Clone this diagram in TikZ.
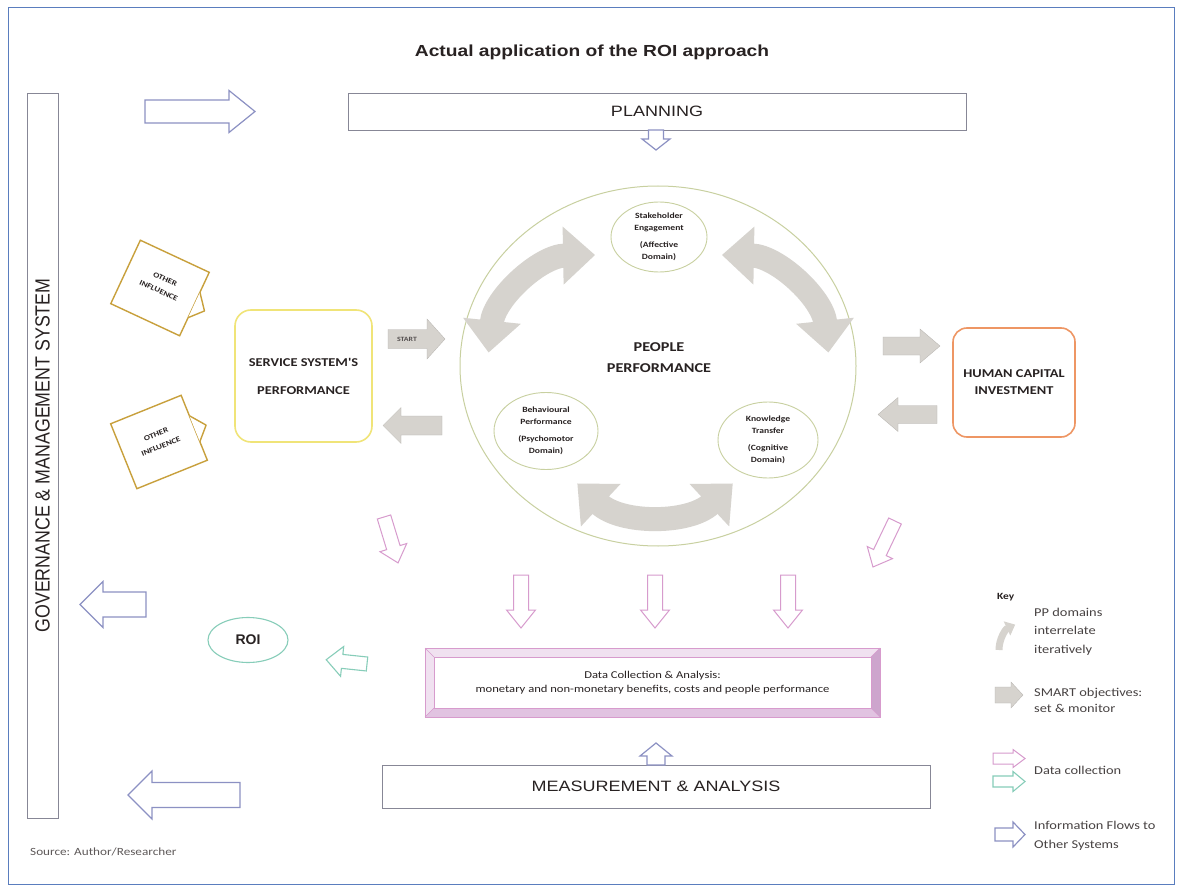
\documentclass[tikz,border=0pt]{standalone}
\usepackage{fontspec}
\setmainfont{Carlito}
\newfontfamily\calf[FakeStretch=1.2]{Carlito}
\newfontfamily\arf[FakeStretch=1.2]{Liberation Sans}
\newfontfamily\arplain{Liberation Sans}
\usetikzlibrary{shapes.geometric,arrows.meta}
\definecolor{frameblue}{RGB}{90,125,190}
\definecolor{boxgray}{RGB}{135,135,150}
\definecolor{flowblue}{RGB}{140,145,195}
\definecolor{pinkc}{RGB}{215,155,205}
\definecolor{pinkl}{RGB}{240,225,240}
\definecolor{pinkm}{RGB}{225,195,225}
\definecolor{pinkd}{RGB}{205,165,205}
\definecolor{tealc}{RGB}{135,205,185}
\definecolor{agray}{RGB}{214,211,206}
\definecolor{yellowc}{RGB}{240,228,120}
\definecolor{orangec}{RGB}{238,150,100}
\definecolor{olivec}{RGB}{200,208,160}
\definecolor{goldc}{RGB}{200,160,60}
\definecolor{txt}{RGB}{40,34,34}
% block arrow: style, x, y (tail centre), angle, length, shaft half, head half, head length
\newcommand{\blockarr}[8]{%
  \begin{scope}[shift={(#2,#3)},rotate=#4]
    \draw[#1] (0,-#6) -- ({#5-#8},-#6) -- ({#5-#8},-#7) -- (#5,0) -- ({#5-#8},#7) -- ({#5-#8},#6) -- (0,#6) -- cycle;
  \end{scope}}
\tikzset{
  flowarr/.style={draw=flowblue, line width=1.2pt, fill=white, line join=miter},
  pinkarr/.style={draw=pinkc, line width=1pt, fill=white},
  tealarr/.style={draw=tealc, line width=1.1pt, fill=white},
  grayarr/.style={fill=agray, draw=agray!85!black, line width=0.3pt},
  curv/.style={draw=agray, line width=24pt, arrows={Triangle[length=32pt,width=56pt]-Triangle[length=32pt,width=56pt]}},
  plainbox/.style={draw=boxgray, line width=0.9pt, fill=white, font=\arf\fontsize{15}{18}\selectfont, text=txt},
  smallc/.style={ellipse, draw=olivec, line width=0.9pt, align=center, font=\calf\bfseries\fontsize{8}{12.5}\selectfont},
  infl/.style={draw=goldc, line width=1.4pt, fill=white, minimum width=76pt, minimum height=70pt, transform shape},
  infltxt/.style={transform shape, font=\calf\bfseries\fontsize{7.5}{9}\selectfont},
  keytxt/.style={anchor=west, align=left, font=\calf\fontsize{12}{18.5}\selectfont, text=txt!85}
}
\begin{document}
\begin{tikzpicture}[x=1pt,y=-1pt, every node/.style={inner sep=0pt, text=txt}]
\fill[white] (0,0) rectangle (1179,888);
\useasboundingbox (0,0) rectangle (1179,888);
\draw[frameblue, line width=1pt] (8,8) rectangle (1174,884);

% title
\node[font=\arf\bfseries\fontsize{16}{19}\selectfont] (title) at (592,52) {Actual application of the ROI approach};

% governance bar
\node[draw=boxgray, line width=0.9pt, minimum width=31pt, minimum height=725pt] (gov) at (42.5,455.5) {};
\node[rotate=90, font=\arplain\fontsize{17.8}{20}\selectfont] (govt) at (gov.center) {\scalebox{1}[1.15]{GOVERNANCE \& MANAGEMENT SYSTEM}};

% planning & measurement
\node[plainbox, minimum width=618pt, minimum height=37pt] (plan) at (657,111.5) {PLANNING};
\node[plainbox, minimum width=548pt, minimum height=43pt] (meas) at (656,786.5) {MEASUREMENT \& ANALYSIS};

% information flow arrows
\blockarr{flowarr}{145}{111.5}{0}{110}{11.5}{21}{26}
\blockarr{flowarr}{146}{604.5}{180}{66}{12.5}{23}{23}
\blockarr{flowarr}{240}{795}{180}{112}{12.5}{24}{24}
\blockarr{flowarr}{656}{130}{-90}{20}{7.5}{14}{11}
\blockarr{flowarr}{656}{765}{90}{22}{9}{16}{13}

% people performance circle
\node[ellipse, draw=olivec, line width=1pt, minimum width=396pt, minimum height=360pt] (pp) at (658,366) {};
\draw[curv] (488.6,352.6) arc[start angle=-186, end angle=-269, radius=109pt];
\draw[curv] (721.9,255) arc[start angle=-271, end angle=-354, radius=109pt];
\draw[curv] (577.3,483.4) arc[start angle=-133, end angle=-47, radius=114pt];
\node[align=center, font=\calf\bfseries\fontsize{13.5}{21}\selectfont] (ppt) at (659,358) {PEOPLE\\PERFORMANCE};
\node[smallc, minimum width=96pt, minimum height=70pt] (se) at (659,237) {Stakeholder\\Engagement\\[4pt](Affective\\Domain)};
\node[smallc, minimum width=104pt, minimum height=77pt] (bp) at (546,431) {Behavioural\\Performance\\[4pt](Psychomotor\\Domain)};
\node[smallc, minimum width=100pt, minimum height=76pt] (kt) at (768,440) {Knowledge\\Transfer\\[4pt](Cognitive\\Domain)};

% service system
\node[draw=yellowc, line width=1.6pt, rounded corners=16pt, minimum width=137pt, minimum height=132pt, align=center, font=\calf\bfseries\fontsize{12}{28}\selectfont] (sss) at (303.5,376) {SERVICE SYSTEM'S\\PERFORMANCE};
\blockarr{grayarr}{388}{339}{0}{57}{9.5}{20}{18}
\node[font=\calf\bfseries\fontsize{6.5}{8}\selectfont, text=txt!80] (start) at (407,339) {START};
\blockarr{grayarr}{442}{425.5}{180}{59}{9.5}{18}{18}

% human capital investment
\node[draw=orangec, line width=1.6pt, rounded corners=14pt, minimum width=122pt, minimum height=109pt, align=center, font=\calf\bfseries\fontsize{12}{17}\selectfont] (hci) at (1014,382.5) {HUMAN CAPITAL\\INVESTMENT};
\blockarr{grayarr}{883}{346}{0}{57}{9}{17}{20}
\blockarr{grayarr}{937}{414.5}{180}{59}{9}{17}{20}

% other influences
\begin{scope}[shift={(160,288)},rotate=-25]
  \node[infl] (oi1) at (0,0) {};
  \draw[goldc, line width=1.4pt, fill=white, line join=round] (38,-13) -- (50,2) -- (38,15);
  \node[infltxt] (oi1a) at (1,-10) {OTHER};
  \node[infltxt] (oi1b) at (0,3) {INFLUENCE};
\end{scope}
\begin{scope}[shift={(159,442)},rotate=22]
  \node[infl] (oi2) at (0,0) {};
  \draw[goldc, line width=1.4pt, fill=white, line join=round] (38,-13) -- (50,2) -- (38,15);
  \node[infltxt] (oi2a) at (0,-8) {OTHER};
  \node[infltxt] (oi2b) at (0,5) {INFLUENCE};
\end{scope}

% data collection arrows
\blockarr{pinkarr}{384}{517}{-73}{48}{7}{14}{16}
\blockarr{pinkarr}{895}{521}{-115.6}{51}{7}{14}{16}
\blockarr{pinkarr}{521}{575}{-90}{53}{7.5}{14.5}{18}
\blockarr{pinkarr}{655}{575}{-90}{53}{7.5}{14.5}{18}
\blockarr{pinkarr}{788}{575}{-90}{53}{7.5}{14.5}{18}

% data collection box (bevel)
\fill[pinkl] (425,648) rectangle (880,717);
\fill[pinkd] (880,648) -- (880,717) -- (871,708) -- (871,657) -- cycle;
\fill[pinkm] (425,717) -- (880,717) -- (871,708) -- (434,708) -- cycle;
\draw[pinkc, line width=0.8pt] (425,648) rectangle (880,717);
\draw[pinkc, line width=0.6pt] (425,648) -- (434,657) (880,648) -- (871,657) (425,717) -- (434,708) (880,717) -- (871,708);
\node[draw=pinkc, line width=0.8pt, fill=white, minimum width=437pt, minimum height=51pt, align=center, font=\calf\fontsize{10.5}{14}\selectfont] (data) at (652.5,682.5) {Data Collection \& Analysis:\\monetary and non-monetary benefits, costs and people performance};

% ROI
\node[ellipse, draw=tealc, line width=1.1pt, minimum width=80pt, minimum height=45pt, font=\arplain\bfseries\fontsize{14}{16}\selectfont] (roi) at (248,640) {ROI};
\blockarr{tealarr}{367}{664}{174}{41}{7}{15}{16}

% source
\node[anchor=west, font=\calf\fontsize{11}{13}\selectfont, text=txt!75] (src) at (30,852) {Source: Author/Researcher};

% key
\node[anchor=west, font=\calf\bfseries\fontsize{9.5}{11}\selectfont] (key) at (997,597) {Key};
\draw[draw=agray, line width=7pt, arrows={-Triangle[length=9pt,width=15pt]}] (999,650) arc[start angle=180, end angle=115, radius=28pt];
\node[keytxt] (k1) at (1034,631.5) {PP domains\\interrelate\\iteratively};
\blockarr{grayarr}{995}{695}{0}{28}{8}{13}{12}
\node[keytxt, font=\calf\fontsize{12}{16}\selectfont] (k2) at (1034,700) {SMART objectives:\\set \& monitor};
\blockarr{pinkarr}{993}{758.5}{0}{32}{5.5}{9}{12}
\blockarr{tealarr}{993}{781.5}{0}{32}{5.5}{10}{12}
\node[keytxt] (k3) at (1034,770) {Data collection};
\blockarr{flowarr}{995}{834.5}{0}{30}{6.5}{12.5}{12}
\node[keytxt] (k4) at (1034,836) {Information Flows to\\Other Systems};
\end{tikzpicture}
\end{document}
